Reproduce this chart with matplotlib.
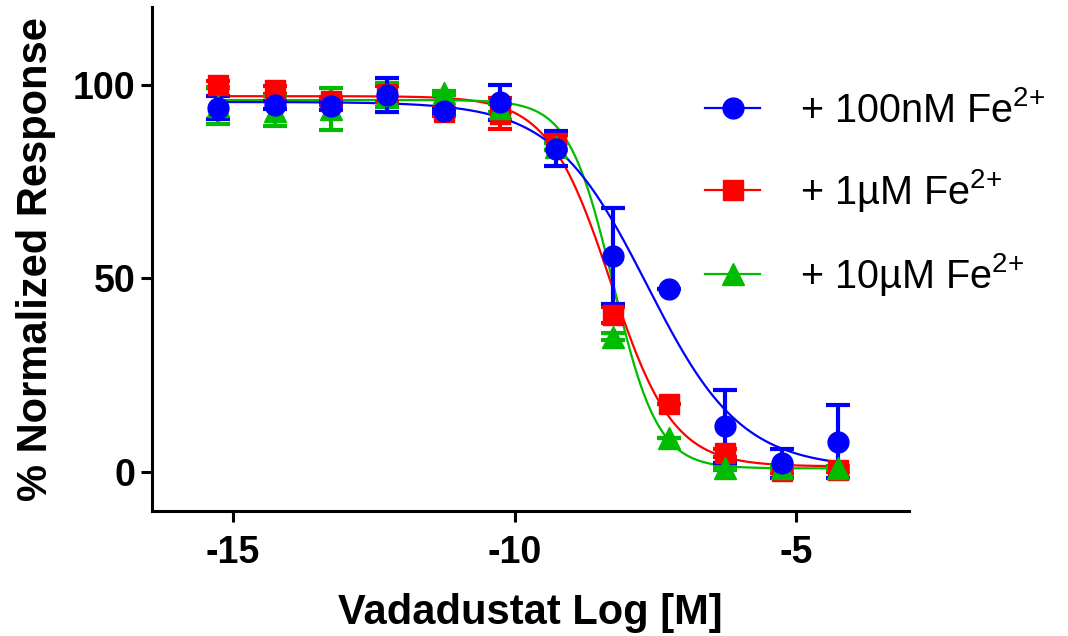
import numpy as np
import matplotlib
matplotlib.use('Agg')
import matplotlib.pyplot as plt
from matplotlib.lines import Line2D

plt.rcParams['font.family'] = ['Liberation Sans', 'DejaVu Sans']
plt.rcParams['mathtext.fontset'] = 'custom'
plt.rcParams['mathtext.rm'] = 'Liberation Sans'
plt.rcParams['mathtext.default'] = 'regular'
plt.rcParams['axes.unicode_minus'] = False

# log concentration of vadadustat
log_conc = [-15.26, -14.26, -13.26, -12.26, -11.26, -10.26,
            -9.26, -8.26, -7.26, -6.26, -5.26, -4.26]

# + 100nM Fe2+
blue_mean = [94.0, 94.8, 94.4, 97.4, 93.1, 95.4, 83.4, 55.8, 47.2, 11.8, 2.3, 7.9]
blue_err = [3.0, 1.0, 1.0, 4.4, 0.5, 4.6, 4.5, 12.3, 0.0, 9.4, 3.7, 9.5]
# + 1uM Fe2+
red_mean = [100.0, 98.6, 95.8, 97.6, 93.0, 92.5, 85.0, 40.6, 17.6, 4.9, 0.2, 0.6]
red_err = [1.0, 1.0, 1.0, 2.0, 1.0, 4.0, 2.0, 2.0, 0.0, 1.0, 0.5, 0.5]
# + 10uM Fe2+
green_mean = [94.5, 93.1, 93.8, 97.3, 97.9, 94.0, 84.0, 35.0, 8.8, 1.0, 1.0, 1.0]
green_err = [4.8, 3.9, 5.4, 3.2, 0.5, 1.0, 1.0, 1.0, 0.0, 0.5, 0.5, 0.5]

# four-parameter logistic fits: top, bottom, logIC50, hill slope
blue_fit = [95.5, 1.0, -7.65, 0.52]
red_fit = [97.0, 1.5, -8.30, 0.78]
green_fit = [96.0, 1.0, -8.25, 1.10]

labels = ['+ 100nM Fe$^{2{+}}$', '+ 1\u00b5M Fe$^{2{+}}$', '+ 10\u00b5M Fe$^{2{+}}$']


def logistic(x, p):
    top, bottom, ic50, hill = p
    return bottom + (top - bottom) / (1 + 10 ** ((x - ic50) * hill))


fig = plt.figure(figsize=(10.68, 6.36), dpi=100)
ax = fig.add_axes([152 / 1068, 1 - 511 / 636, (909 - 152) / 1068, (511 - 7) / 636])

xfit = np.linspace(log_conc[0], log_conc[-1], 400)

series = [
    (red_mean, red_err, red_fit, '#ff0000', 's', 15),
    (green_mean, green_err, green_fit, '#00bb00', '^', 16),
    (blue_mean, blue_err, blue_fit, '#0000ff', 'o', 15),
]
for mean, err, fit, col, mk, ms in series:
    ax.plot(xfit, logistic(xfit, fit), color=col, lw=1.6, zorder=2)
    ax.errorbar(log_conc, mean, yerr=err, fmt=mk, color=col, ms=ms,
                elinewidth=3, capsize=8.5, capthick=3, zorder=3)

ax.set_xlim(-16.44, -3.0)
ax.set_ylim(-10, 120)
ax.set_xticks([-15, -10, -5])
ax.set_yticks([0, 50, 100])

for s in ['top', 'right']:
    ax.spines[s].set_visible(False)
for s in ['left', 'bottom']:
    ax.spines[s].set_linewidth(2.2)
ax.tick_params(width=2.2, length=8, labelsize=27)
ax.tick_params(axis='y', pad=4)
ax.tick_params(axis='x', pad=9)
for lab in ax.get_xticklabels() + ax.get_yticklabels():
    lab.set_fontweight('bold')

ax.set_xlabel('Vadadustat Log [M]', fontsize=30, fontweight='bold', labelpad=16)
ax.set_ylabel('% Normalized Response', fontsize=30, fontweight='bold', labelpad=12)

handles = [
    Line2D([], [], color='#0000ff', marker='o', ms=15, lw=1.6),
    Line2D([], [], color='#ff0000', marker='s', ms=15, lw=1.6),
    Line2D([], [], color='#00bb00', marker='^', ms=16, lw=1.6),
]
fig.legend(handles, labels, loc='upper left', bbox_to_anchor=(705 / 1068, 1 - 91 / 636),
           frameon=False, fontsize=28.5, handlelength=1.4, handletextpad=1.0,
           labelspacing=0.93, borderpad=0, borderaxespad=0)

fig.savefig('out.png', dpi=100)
